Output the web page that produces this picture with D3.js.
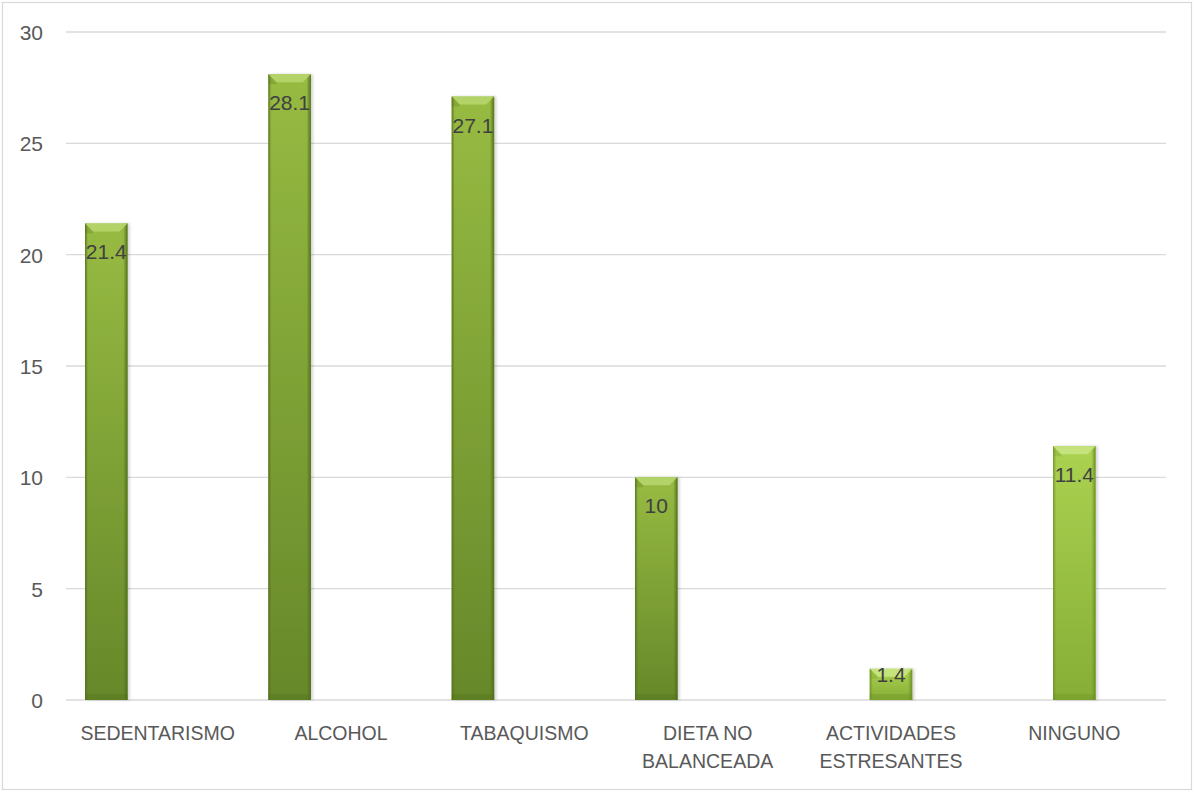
<!DOCTYPE html>
<html>
<head>
<meta charset="utf-8">
<script src="https://cdn.jsdelivr.net/npm/d3@7"></script>
<style>
  html, body { margin: 0; padding: 0; background: #ffffff; }
  svg { display: block; }
  text { font-family: "Liberation Sans", Arial, sans-serif; }
</style>
</head>
<body>
<svg id="chart" width="1194" height="792"></svg>
<script>
// Categories (line breaks mark how the axis labels wrap)
const categories = [
  "SEDENTARISMO",
  "ALCOHOL",
  "TABAQUISMO",
  "DIETA NO\nBALANCEADA",
  "ACTIVIDADES\nESTRESANTES",
  "NINGUNO"
];

// Series values (null = no bar in that slot)
const serie1 = [21.4, 28.1, 27.1, 10, null, null];
const serie2 = [null, null, null, null, 1.4, 11.4];
const serie3 = [null, null, null, null, null, null];

const seriesNames = ["Serie 1", "Serie 2", "Serie 3"];
const seriesValues = [serie1, serie2, serie3];

// Y axis ticks
const yTicks = [0, 5, 10, 15, 20, 25, 30];

// Colours per series: [top, bottom, edge, bevel]
const palette = {
  "Serie 1": { top: "#97bb42", bottom: "#66882a", edge: "#52701d", bevel: "#b4d46a" },
  "Serie 2": { top: "#abd250", bottom: "#86ae36", edge: "#6c9026", bevel: "#c6e47e" },
  "Serie 3": { top: "#97bb42", bottom: "#66882a", edge: "#52701d", bevel: "#b4d46a" }
};

const svg = d3.select("#chart");
const plot = { left: 66, right: 1166, top: 32, bottom: 700 };

// Outer frame
svg.append("rect")
  .attr("x", 2.5).attr("y", 2.5)
  .attr("width", 1189).attr("height", 787)
  .attr("fill", "#ffffff")
  .attr("stroke", "#d9d9d9").attr("stroke-width", 1.2);

const x0 = d3.scaleBand()
  .domain(d3.range(categories.length))
  .range([plot.left, plot.right])
  .paddingInner(0).paddingOuter(0);

const x1 = d3.scaleBand()
  .domain(seriesNames)
  .range([0, x0.bandwidth()])
  .paddingInner(0.173)
  .paddingOuter(0.37);

const y = d3.scaleLinear().domain([0, 30]).range([plot.bottom, plot.top]);

// Gridlines
svg.append("g")
  .selectAll("line")
  .data(yTicks)
  .join("line")
  .attr("x1", plot.left).attr("x2", plot.right)
  .attr("y1", d => y(d)).attr("y2", d => y(d))
  .attr("stroke", "#d9d9d9").attr("stroke-width", 1.4);

// Y axis labels
const yAxis = d3.axisLeft(y).tickValues(yTicks).tickSize(0).tickPadding(0);
const yG = svg.append("g")
  .attr("transform", `translate(${43},0)`)
  .call(yAxis);
yG.select(".domain").remove();
yG.selectAll("text")
  .attr("font-size", 21)
  .attr("font-family", "'Liberation Sans', Arial, sans-serif")
  .attr("fill", "#595959")
  .attr("dy", "0.36em");

// Gradients
const defs = svg.append("defs");
seriesNames.forEach((s, i) => {
  const c = palette[s];
  const g = defs.append("linearGradient")
    .attr("id", "fill" + i)
    .attr("x1", 0).attr("y1", 0).attr("x2", 0).attr("y2", 1);
  g.append("stop").attr("offset", "0%").attr("stop-color", c.top);
  g.append("stop").attr("offset", "100%").attr("stop-color", c.bottom);
  const h = defs.append("linearGradient")
    .attr("id", "side" + i)
    .attr("x1", 0).attr("y1", 0).attr("x2", 1).attr("y2", 0);
  h.append("stop").attr("offset", "0%").attr("stop-color", c.edge).attr("stop-opacity", 0.9);
  h.append("stop").attr("offset", "7%").attr("stop-color", c.edge).attr("stop-opacity", 0.0);
  h.append("stop").attr("offset", "90%").attr("stop-color", c.edge).attr("stop-opacity", 0.0);
  h.append("stop").attr("offset", "100%").attr("stop-color", c.edge).attr("stop-opacity", 1);
});

const shadow = defs.append("filter").attr("id", "shadow")
  .attr("x", "-20%").attr("y", "-5%").attr("width", "150%").attr("height", "110%");
shadow.append("feDropShadow")
  .attr("dx", 2).attr("dy", 0).attr("stdDeviation", 1.5)
  .attr("flood-color", "#000").attr("flood-opacity", 0.18);

// Bar records
const bars = [];
seriesValues.forEach((vals, si) => {
  vals.forEach((v, ci) => {
    if (v !== null && v !== undefined) bars.push({ si, ci, series: seriesNames[si], value: v });
  });
});

const barG = svg.append("g");
bars.forEach(b => {
  const bx = x0(b.ci) + x1(b.series);
  const bw = x1.bandwidth();
  const top = y(b.value);
  const bot = y(0);
  const bh = bot - top;
  const c = palette[b.series];
  const g = barG.append("g");

  g.append("rect")
    .attr("x", bx).attr("y", top).attr("width", bw).attr("height", bh)
    .attr("fill", `url(#fill${b.si})`)
    .attr("filter", "url(#shadow)");
  // dark side edges
  g.append("rect")
    .attr("x", bx).attr("y", top).attr("width", bw).attr("height", bh)
    .attr("fill", `url(#side${b.si})`);
  // bottom darkening
  const bb = Math.min(6, bh / 4);
  g.append("rect")
    .attr("x", bx).attr("y", bot - bb).attr("width", bw).attr("height", bb)
    .attr("fill", c.edge).attr("opacity", 0.35);
  // top bevel
  const bev = Math.min(8, bh / 3);
  g.append("polygon")
    .attr("points", [
      [bx, top], [bx + bw, top], [bx + bw - bev, top + bev], [bx + bev, top + bev]
    ].map(p => p.join(",")).join(" "))
    .attr("fill", c.bevel).attr("opacity", 0.95);
  g.append("polygon")
    .attr("points", [
      [bx, top], [bx + bev, top + bev], [bx + bev, top + bev + 2], [bx, top + bev + 2]
    ].map(p => p.join(",")).join(" "))
    .attr("fill", c.edge).attr("opacity", 0.25);

  // value label, inside end
  const base = Math.min(top + 36, bot - 18);
  g.append("text")
    .attr("x", bx + bw / 2).attr("y", base)
    .attr("text-anchor", "middle")
    .attr("font-size", 21)
    .attr("fill", "#404040")
    .text(b.value);
});

// Category labels
const catG = svg.append("g");
categories.forEach((cat, i) => {
  const lines = cat.split("\n");
  const t = catG.append("text")
    .attr("x", x0(i) + x0.bandwidth() / 2)
    .attr("y", 740)
    .attr("text-anchor", "middle")
    .attr("font-size", 19.5)
    .attr("fill", "#595959");
  lines.forEach((ln, k) => {
    t.append("tspan")
      .attr("x", x0(i) + x0.bandwidth() / 2)
      .attr("dy", k === 0 ? 0 : 28)
      .text(ln);
  });
});
</script>
</body>
</html>
